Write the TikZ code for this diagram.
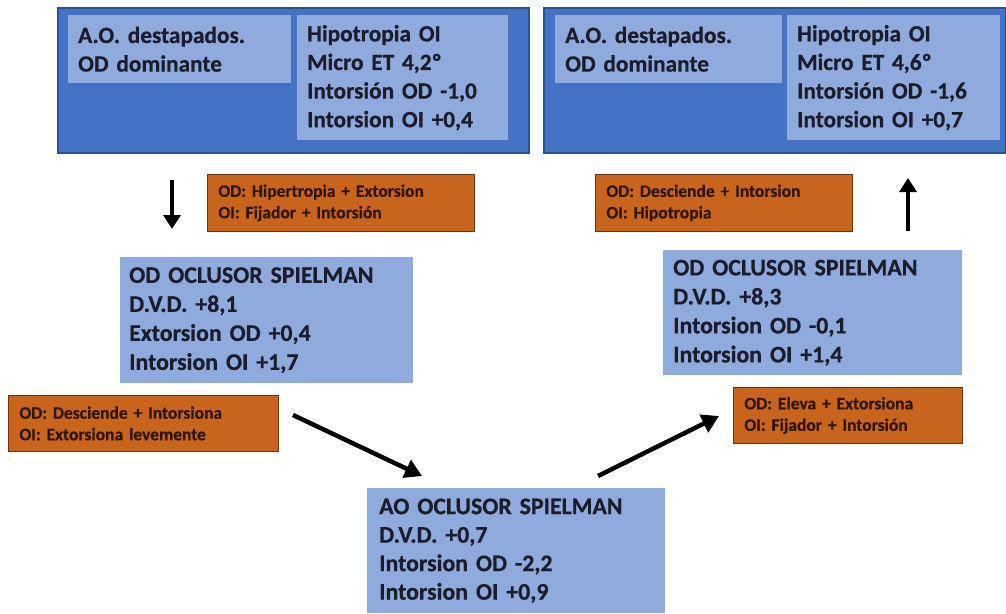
\documentclass[tikz,border=0pt]{standalone}
\usepackage{fontspec}
\setmainfont{Carlito}[BoldFeatures={FakeBold=0.6}]
\usetikzlibrary{arrows.meta}
\definecolor{dblue}{HTML}{4472C4}
\definecolor{dborder}{HTML}{2F528F}
\definecolor{lblue}{HTML}{8FAADC}
\definecolor{orng}{HTML}{C9641C}
\definecolor{oborder}{HTML}{6B3410}
\definecolor{btext}{HTML}{1C1C2A}
\definecolor{otext}{HTML}{2E1605}
\begin{document}
\begin{tikzpicture}[x=1pt,y=-1pt,
  outerbox/.style={draw=dborder, line width=1.5pt, fill=dblue, anchor=north west, inner sep=0pt},
  lightbox/.style={fill=lblue, anchor=north west, inner xsep=10pt, inner ysep=0pt,
     align=left, text=btext, font=\fontsize{23.3}{28.6}\selectfont\bfseries},
  orangebox/.style={fill=orng, draw=oborder, line width=0.8pt, anchor=north west,
     inner xsep=11pt, inner ysep=0pt, align=left, text=otext,
     font=\fontsize{17.5}{21.5}\selectfont\bfseries},
  vflow/.style={line width=3.5pt, -{Triangle[length=14pt,width=17pt]}},
  dflow/.style={line width=4.5pt, -{Triangle[length=17pt,width=19pt]}}
]
\useasboundingbox (0,0) rectangle (1006,613);
\fill[white] (0,0) rectangle (1006,613);

% top left
\node[outerbox, minimum width=471pt, minimum height=145pt] (tlo) at (57,7) {};
\node[lightbox, text width=203pt, minimum height=68pt] (tla) at (68,15) {A.O. destapados.\\OD dominante};
\node[lightbox, text width=191pt, minimum height=125pt] (tlb) at (297,15) {Hipotropia OI\\Micro ET 4,2º\\Intorsión OD -1,0\\Intorsion OI +0,4};

% top right
\node[outerbox, minimum width=462pt, minimum height=145pt] (tro) at (543,7) {};
\node[lightbox, text width=207pt, minimum height=68pt] (tra) at (555,15) {A.O. destapados.\\OD dominante};
\node[lightbox, text width=193pt, minimum height=125pt] (trb) at (787,15) {Hipotropia OI\\Micro ET 4,6º\\Intorsión OD -1,6\\Intorsion OI +0,7};

% orange boxes
\node[orangebox, text width=245pt, minimum height=57pt] (o1) at (207,174) {OD: Hipertropia + Extorsion\\OI: Fijador + Intorsión};
\node[orangebox, text width=235pt, minimum height=57pt] (o2) at (595,174) {OD: Desciende + Intorsion\\OI: Hipotropia};
\node[orangebox, text width=248pt, minimum height=56pt] (o3) at (8,395) {OD: Desciende + Intorsiona\\OI: Extorsiona levemente};
\node[orangebox, text width=207pt, minimum height=56pt] (o4) at (733,387) {OD: Eleva + Extorsiona\\OI: Fijador + Intorsión};

% middle boxes
\node[lightbox, text width=275pt, minimum height=126pt, inner xsep=9pt, font=\fontsize{23.8}{29}\selectfont\bfseries] (ml) at (120,257) {OD OCLUSOR SPIELMAN\\D.V.D. +8,1\\Extorsion OD +0,4\\Intorsion OI +1,7};
\node[lightbox, text width=279pt, minimum height=125pt, inner xsep=10pt, font=\fontsize{23.8}{29}\selectfont\bfseries] (mr) at (663,250) {OD OCLUSOR SPIELMAN\\D.V.D. +8,3\\Intorsion OD -0,1\\Intorsion OI +1,4};

% bottom
\node[lightbox, text width=274pt, minimum height=125pt, inner xsep=12pt, font=\fontsize{23.8}{28.5}\selectfont\bfseries] (bt) at (367,488) {AO OCLUSOR SPIELMAN\\D.V.D. +0,7\\Intorsion OD -2,2\\Intorsion OI +0,9};

% arrows
\coordinate (a1s) at (172,180);
\coordinate (a1e) at (172,229);
\coordinate (a2s) at (908,231);
\coordinate (a2e) at (908,178);
\coordinate (a3s) at (293,415);
\coordinate (a3e) at (422,476);
\coordinate (a4s) at (598,476);
\coordinate (a4e) at (719,416);
\draw[vflow] (a1s) -- (a1e);
\draw[vflow] (a2s) -- (a2e);
\draw[dflow] (a3s) -- (a3e);
\draw[dflow] (a4s) -- (a4e);
\end{tikzpicture}
\end{document}
